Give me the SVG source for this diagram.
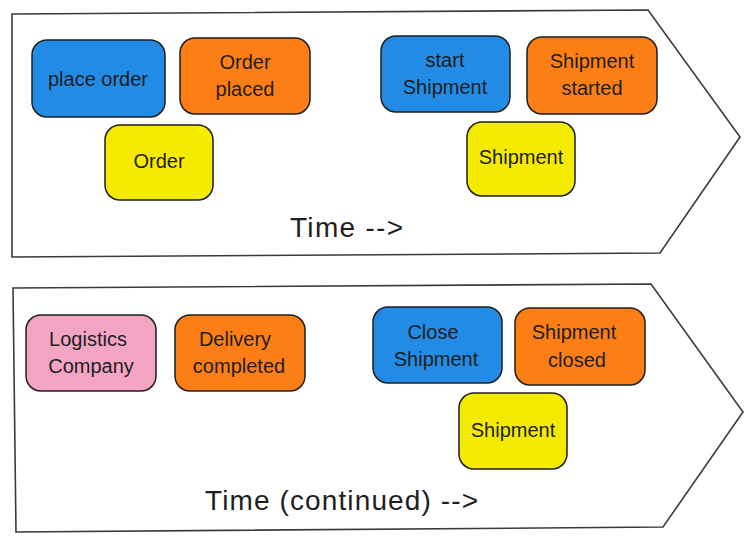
<svg xmlns="http://www.w3.org/2000/svg" width="751" height="543" viewBox="0 0 751 543">
<style>
.lane{fill:#ffffff;stroke:#3a3a3a;stroke-width:1.6;stroke-linejoin:miter}
.n rect{stroke:#1e1e1e;stroke-width:1.5}
.blue{fill:#228be6}
.orange{fill:#fd7e14}
.yellow{fill:#f5eb00}
.pink{fill:#f3a5c3}
text{font-family:"Liberation Sans","DejaVu Sans",sans-serif;font-size:20px;fill:#1e1e1e;text-anchor:middle}
.big{font-size:28px;text-anchor:start}
</style>
<rect width="751" height="543" fill="#ffffff"/>
<g id="lane-top">
<path class="lane" d="M12,14 L648,10 L740,137 L660,253 L12,257 Z"/>
</g>
<g id="lane-bottom">
<path class="lane" d="M13,288 L651,284 L743,412 L663,527 L16,532 Z"/>
</g>
<g id="connectors"></g>
<g id="place-order" class="n"><rect class="blue" x="32" y="40" width="133" height="77" rx="15"/><text x="98" y="86">place order</text></g>
<g id="order-placed" class="n"><rect class="orange" x="180" y="38" width="130" height="76" rx="15"/><text x="245" y="69">Order</text><text x="245" y="96">placed</text></g>
<g id="order" class="n"><rect class="yellow" x="105" y="125" width="108" height="75" rx="15"/><text x="159" y="168">Order</text></g>
<g id="start-shipment" class="n"><rect class="blue" x="381" y="36" width="129" height="76" rx="15"/><text x="445" y="67">start</text><text x="445" y="94">Shipment</text></g>
<g id="shipment-started" class="n"><rect class="orange" x="527" y="37" width="130" height="77" rx="15"/><text x="592" y="68">Shipment</text><text x="592" y="95">started</text></g>
<g id="shipment-1" class="n"><rect class="yellow" x="467" y="122" width="108" height="74" rx="15"/><text x="521" y="164">Shipment</text></g>
<g id="time-1"><text class="big" x="290" y="237" textLength="113" lengthAdjust="spacing">Time --&gt;</text></g>
<g id="logistics-company" class="n"><rect class="pink" x="26" y="315" width="130" height="76" rx="15"/><text x="88" y="346">Logistics</text><text x="91" y="373">Company</text></g>
<g id="delivery-completed" class="n"><rect class="orange" x="175" y="315" width="130" height="76" rx="15"/><text x="235" y="346">Delivery</text><text x="239" y="373">completed</text></g>
<g id="close-shipment" class="n"><rect class="blue" x="373" y="307" width="129" height="76" rx="15"/><text x="433" y="339">Close</text><text x="436" y="366">Shipment</text></g>
<g id="shipment-closed" class="n"><rect class="orange" x="515" y="308" width="130" height="77" rx="15"/><text x="574" y="339">Shipment</text><text x="577" y="367">closed</text></g>
<g id="shipment-2" class="n"><rect class="yellow" x="459" y="393" width="108" height="76" rx="15"/><text x="513" y="437">Shipment</text></g>
<g id="time-2"><text class="big" x="205" y="510" textLength="273" lengthAdjust="spacing">Time (continued) --&gt;</text></g>
</svg>
